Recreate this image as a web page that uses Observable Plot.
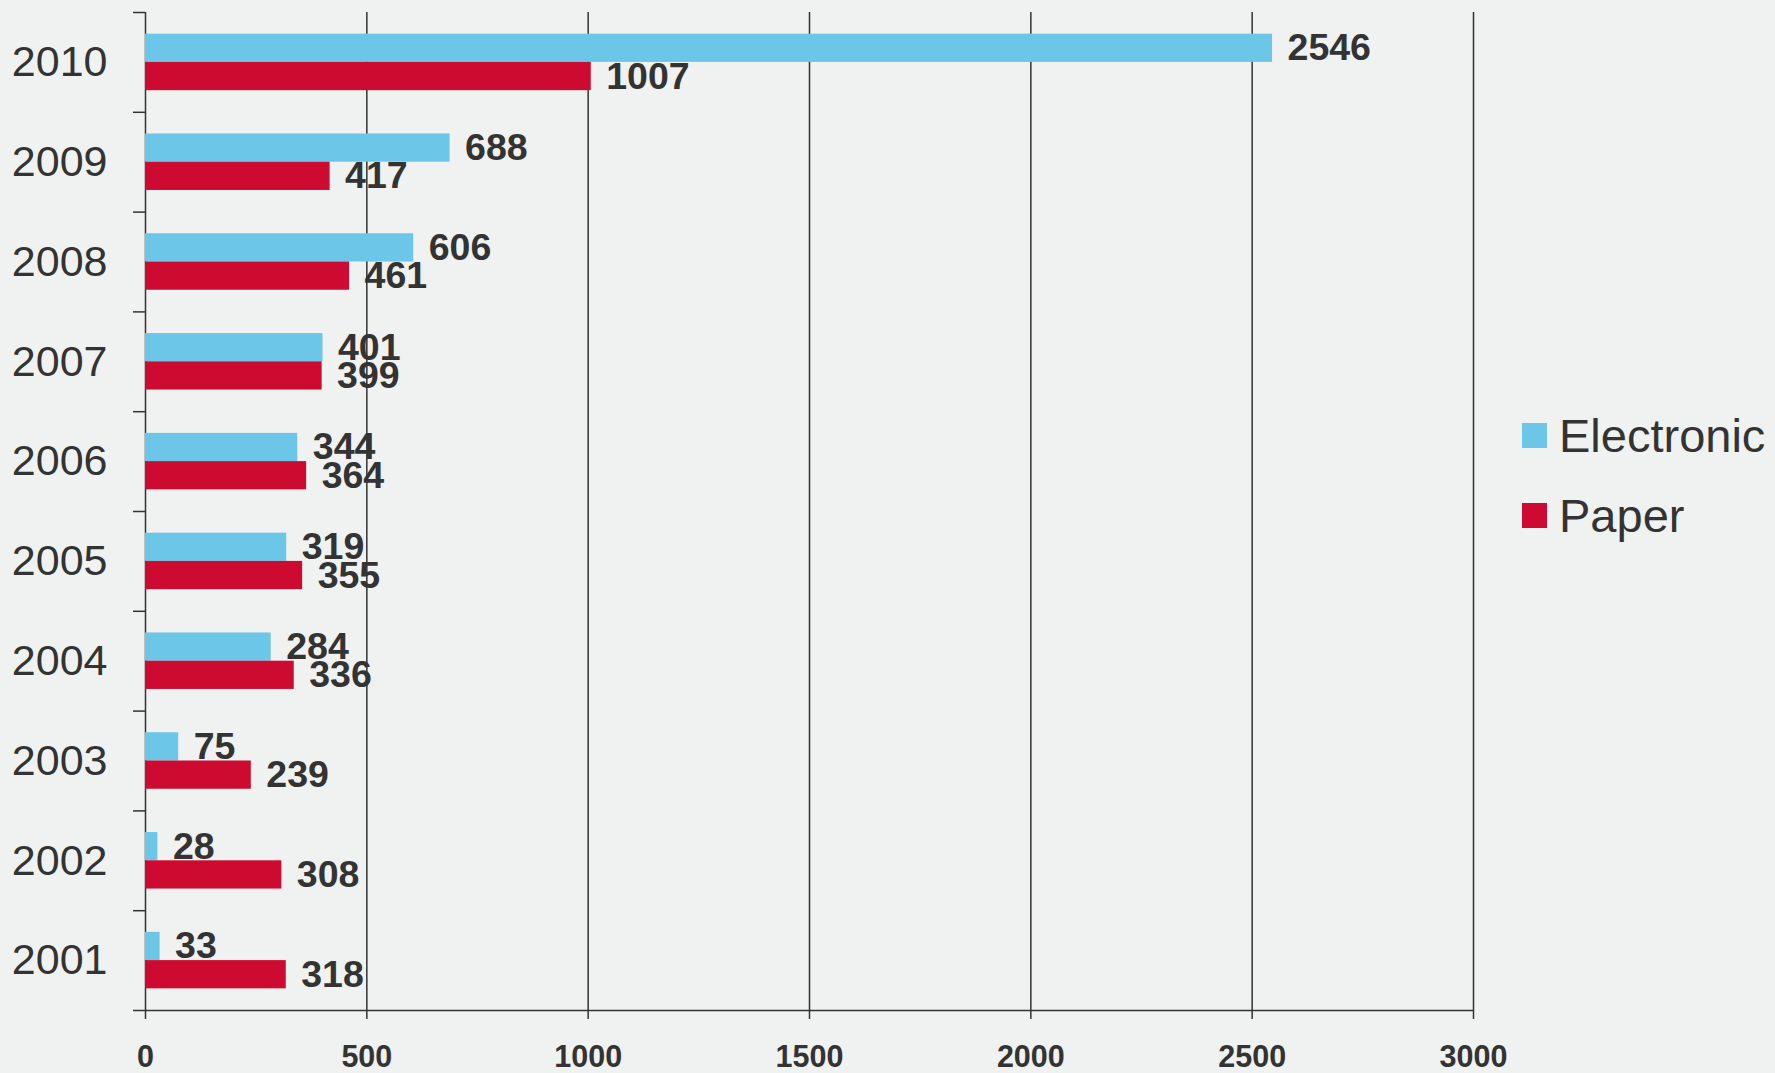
<!DOCTYPE html>
<html>
<head>
<meta charset="utf-8">
<script src="https://cdn.jsdelivr.net/npm/d3@7"></script>
<script src="https://cdn.jsdelivr.net/npm/@observablehq/plot@0.6"></script>
<style>
  html, body { margin: 0; padding: 0; background: #f0f1f1; }
  body { width: 1775px; height: 1073px; position: relative; overflow: hidden;
         font-family: "Liberation Sans", Arial, sans-serif; }
  #chart { position: absolute; left: 0; top: 0; }
  #legend { position: absolute; left: 1522px; top: 395px; color: #333; font-size: 47px; }
  .item { display: flex; align-items: center; height: 80px; }
  .sw { width: 25px; height: 25px; margin-right: 12px; flex: none; }
</style>
</head>
<body>
<div id="chart"></div>
<div id="legend"></div>
<script>
const years = [2001, 2002, 2003, 2004, 2005, 2006, 2007, 2008, 2009, 2010];
const electronic = [33, 28, 75, 284, 319, 344, 401, 606, 688, 2546];
const paper = [318, 308, 239, 336, 355, 364, 399, 461, 417, 1007];
const seriesNames = ["Electronic", "Paper"];
const seriesColors = ["#6cc6e8", "#cd0a30"];
const xTicks = [0, 500, 1000, 1500, 2000, 2500, 3000];

const rows = years.flatMap((yr, i) => [
  {year: yr, series: "Electronic", value: electronic[i]},
  {year: yr, series: "Paper", value: paper[i]}
]);

const T = 0.283; // bar thickness as a fraction of a year band
const boundaries = [...years.map(y => y - 0.5), years[years.length - 1] + 0.5];
const barTop = d => d.series === "Electronic" ? d.year + T : d.year;
const barBottom = d => d.series === "Electronic" ? d.year : d.year - T;
const barMid = d => d.series === "Electronic" ? d.year + T / 2 : d.year - T / 2;

const chart = Plot.plot({
  width: 1775,
  height: 1073,
  marginLeft: 145,
  marginRight: 302,
  marginTop: 12,
  marginBottom: 63,
  style: {background: "transparent", fontFamily: "Liberation Sans, Arial, sans-serif", color: "#333"},
  x: {type: "linear", domain: [0, 3000], label: null},
  y: {type: "linear", domain: [years[0] - 0.5, years[years.length - 1] + 0.5], label: null},
  color: {domain: seriesNames, range: seriesColors},
  marks: [
    Plot.gridX(xTicks, {stroke: "#333", strokeOpacity: 1, strokeWidth: 1.5}),
    Plot.rect(rows, {x1: 0, x2: "value", y1: barBottom, y2: barTop, fill: "series"}),
    Plot.text(rows, {x: "value", y: barMid, text: d => String(d.value), textAnchor: "start", dx: 15,
      fontSize: 37.5, fontWeight: "bold", fill: "#333"}),
    Plot.ruleY([boundaries[0]], {stroke: "#333", strokeWidth: 1.5}),
    Plot.axisY({ticks: boundaries, tickSize: 12, tickFormat: () => "", stroke: "#333", strokeWidth: 1.5}),
    Plot.axisY({ticks: years, tickSize: 0, tickPadding: 38, tickFormat: d => String(d),
      fontSize: 43, fill: "#333"}),
    Plot.axisX({ticks: xTicks, tickSize: 9, tickPadding: 26, tickFormat: d => String(d),
      fontSize: 30.5, fontWeight: "bold", fill: "#333", stroke: "#333", strokeWidth: 1.5})
  ]
});
document.getElementById("chart").appendChild(chart);

const legend = document.getElementById("legend");
seriesNames.forEach((name, i) => {
  const item = document.createElement("div");
  item.className = "item";
  const sw = document.createElement("span");
  sw.className = "sw";
  sw.style.background = seriesColors[i];
  const label = document.createElement("span");
  label.textContent = name;
  item.appendChild(sw);
  item.appendChild(label);
  legend.appendChild(item);
});
</script>
</body>
</html>
